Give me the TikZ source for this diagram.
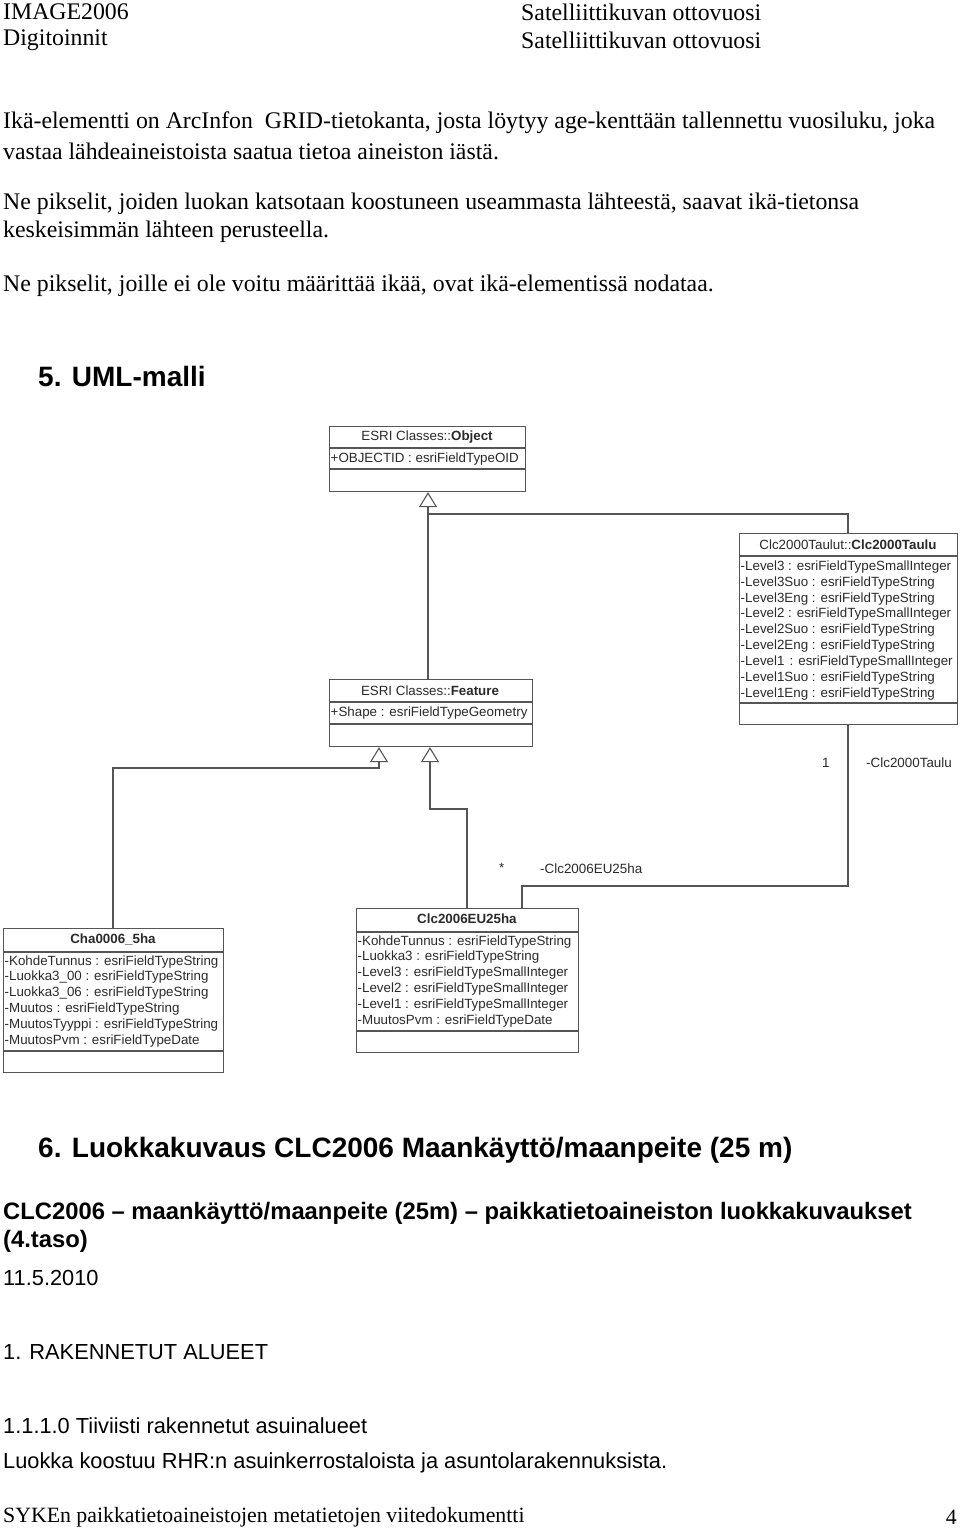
\documentclass[tikz,border=0pt]{standalone}
\usepackage{fontspec}
\setmainfont{Liberation Serif}
\setsansfont{Liberation Sans}
\usetikzlibrary{arrows.meta}
\definecolor{umlline}{HTML}{555555}
\definecolor{umltext}{HTML}{2A2A2A}
\newcommand\bodyfs{\fontsize{23.8}{28}\selectfont}
\newcommand\footfs{\fontsize{21.8}{26}\selectfont}
\newcommand\sansfs{\fontsize{21.8}{26}\selectfont}
\newcommand\sansbfs{\fontsize{23.8}{28}\selectfont}
\newcommand\umlfs{\fontsize{13.35}{15}\selectfont}
\tikzset{
  txt/.style={anchor=west, inner sep=0pt, font=\rmfamily\bodyfs},
  ftxt/.style={anchor=west, inner sep=0pt, font=\rmfamily\footfs},
  stxt/.style={anchor=west, inner sep=0pt, font=\sffamily\sansfs},
  sbtxt/.style={anchor=west, inner sep=0pt, font=\sffamily\bfseries\sansbfs},
  headtxt/.style={anchor=west, inner sep=0pt, font=\sffamily\bfseries\fontsize{28}{32}\selectfont},
  umlbox/.style={draw=umlline, line width=1.1pt, anchor=north west, inner sep=0pt, fill=white},
  sep/.style={draw=umlline, line width=1.1pt},
  attr/.style={anchor=west, inner sep=0pt, text=umltext, font=\sffamily\umlfs},
  ctitle/.style={anchor=center, inner sep=0pt, text=umltext, font=\sffamily\umlfs},
  conn/.style={draw=umlline, line width=1.1pt},
  gen/.style={conn, -{Triangle[open, length=15pt, width=18pt, line width=1.1pt]}},
  lab/.style={anchor=west, inner sep=0pt, text=umltext, font=\sffamily\fontsize{13.4}{15}\selectfont},
}
\begin{document}
\begin{tikzpicture}[x=1pt, y=-1pt]
\useasboundingbox[fill=white] (0,0) rectangle (960,1531);

% header
\node[txt] (h1) at (3,12) {IMAGE2006};
\node[txt] (h2) at (3,40) {Digitoinnit};
\node[txt] (h3) at (521,12) {Satelliittikuvan ottovuosi};
\node[txt] (h4) at (521,40) {Satelliittikuvan ottovuosi};

% body
\node[txt] (p1) at (3,123) {Ikä-elementti on ArcInfon\ \ GRID-tietokanta, josta löytyy age-kenttään tallennettu vuosiluku, joka};
\node[txt] (p2) at (3,151) {vastaa lähdeaineistoista saatua tietoa aineiston iästä.};
\node[txt] (p3) at (3,204) {Ne pikselit, joiden luokan katsotaan koostuneen useammasta lähteestä, saavat ikä-tietonsa};
\node[txt] (p4) at (3,232) {keskeisimmän lähteen perusteella.};
\node[txt] (p5) at (3,286) {Ne pikselit, joille ei ole voitu määrittää ikää, ovat ikä-elementissä nodataa.};

\node[headtxt] (s5) at (38,376) {5. UML-malli};

% ---------- UML boxes ----------
% Object
\node[umlbox, minimum width=196pt, minimum height=65pt] (obj) at (329,426) {};
\draw[sep] (329,448) -- (525,448);
\draw[sep] (329,469) -- (525,469);
\node[ctitle] (objt) at (427,437) {ESRI Classes::\textbf{Object}};
\node[attr] (obja) at (330.5,459) {+OBJECTID : esriFieldTypeOID};

% Feature
\node[umlbox, minimum width=203pt, minimum height=67pt] (feat) at (329,679) {};
\draw[sep] (329,702) -- (532,702);
\draw[sep] (329,724) -- (532,724);
\node[ctitle] (featt) at (430,691) {ESRI Classes::\textbf{Feature}};
\node[attr] (feata) at (330.5,713) {+Shape : esriFieldTypeGeometry};

% Clc2000Taulu
\node[umlbox, minimum width=218pt, minimum height=191pt] (taulu) at (739,533) {};
\draw[sep] (739,556) -- (957,556);
\draw[sep] (739,703) -- (957,703);
\node[ctitle] (tault) at (848,545) {Clc2000Taulut::\textbf{Clc2000Taulu}};
\node[attr] (ta1) at (740.5,567) {-Level3 : esriFieldTypeSmallInteger};
\node[attr] (ta2) at (740.5,583) {-Level3Suo : esriFieldTypeString};
\node[attr] (ta3) at (740.5,599) {-Level3Eng : esriFieldTypeString};
\node[attr] (ta4) at (740.5,614) {-Level2 : esriFieldTypeSmallInteger};
\node[attr] (ta5) at (740.5,630) {-Level2Suo : esriFieldTypeString};
\node[attr] (ta6) at (740.5,646) {-Level2Eng : esriFieldTypeString};
\node[attr] (ta7) at (740.5,662) {-Level1\hspace{1.5pt} : esriFieldTypeSmallInteger};
\node[attr] (ta8) at (740.5,678) {-Level1Suo : esriFieldTypeString};
\node[attr] (ta9) at (740.5,694) {-Level1Eng : esriFieldTypeString};

% Cha0006_5ha
\node[umlbox, minimum width=220pt, minimum height=144pt] (cha) at (3,928) {};
\draw[sep] (3,952) -- (223,952);
\draw[sep] (3,1051) -- (223,1051);
\node[ctitle] (chat) at (113,939) {\textbf{Cha0006\_5ha}};
\node[attr] (ca1) at (4.5,962) {-KohdeTunnus : esriFieldTypeString};
\node[attr] (ca2) at (4.5,977) {-Luokka3\_00 : esriFieldTypeString};
\node[attr] (ca3) at (4.5,993) {-Luokka3\_06 : esriFieldTypeString};
\node[attr] (ca4) at (4.5,1009) {-Muutos : esriFieldTypeString};
\node[attr] (ca5) at (4.5,1025) {-MuutosTyyppi : esriFieldTypeString};
\node[attr] (ca6) at (4.5,1041) {-MuutosPvm : esriFieldTypeDate};

% Clc2006EU25ha
\node[umlbox, minimum width=222pt, minimum height=144pt] (clc) at (356,908) {};
\draw[sep] (356,932) -- (578,932);
\draw[sep] (356,1031) -- (578,1031);
\node[ctitle] (clct) at (467,919) {\textbf{Clc2006EU25ha}};
\node[attr] (cl1) at (357.5,942) {-KohdeTunnus : esriFieldTypeString};
\node[attr] (cl2) at (357.5,957) {-Luokka3 : esriFieldTypeString};
\node[attr] (cl3) at (357.5,973) {-Level3 : esriFieldTypeSmallInteger};
\node[attr] (cl4) at (357.5,989) {-Level2 : esriFieldTypeSmallInteger};
\node[attr] (cl5) at (357.5,1005) {-Level1 : esriFieldTypeSmallInteger};
\node[attr] (cl6) at (357.5,1021) {-MuutosPvm : esriFieldTypeDate};

% ---------- connectors ----------
\coordinate (j1) at (428,514);
\draw[gen] (feat.north -| 428,0) -- (obj.south -| 428,0);
\draw[conn] (taulu.north -| 848,0) |- (j1);
\draw[gen] (cha.north -| 113,0) |- (379,768) -- (feat.south -| 379,0);
\draw[gen] (clc.north -| 467,0) |- (430,809) -- (feat.south -| 430,0);
\draw[conn] (clc.north -| 522,0) |- (848,886) -- (taulu.south -| 848,0);

\node[lab] (m1) at (822,763) {1};
\node[lab] (r1) at (866,763) {-Clc2000Taulu};
\node[lab] (m2) at (499,868) {*};
\node[lab] (r2) at (540,869) {-Clc2006EU25ha};

% ---------- lower text ----------
\node[headtxt] (s6) at (38,1150) {6. Luokkakuvaus CLC2006 Maankäyttö/maanpeite (25 m)};
\node[sbtxt] (t1) at (3,1213) {CLC2006 – maankäyttö/maanpeite (25m) – paikkatietoaineiston luokkakuvaukset};
\node[sbtxt] (t2) at (3,1241) {(4.taso)};
\node[stxt] (t3) at (3,1278) {11.5.2010};
\node[stxt] (t4) at (3,1352) {1. RAKENNETUT ALUEET};
\node[stxt] (t5) at (3,1426) {1.1.1.0 Tiiviisti rakennetut asuinalueet};
\node[stxt] (t6) at (3,1463) {Luokka koostuu RHR:n asuinkerrostaloista ja asuntolarakennuksista.};

% footer
\node[ftxt] (f1) at (3,1517) {SYKEn paikkatietoaineistojen metatietojen viitedokumentti};
\node[ftxt, anchor=east] (f2) at (957,1517) {4};
\end{tikzpicture}
\end{document}
